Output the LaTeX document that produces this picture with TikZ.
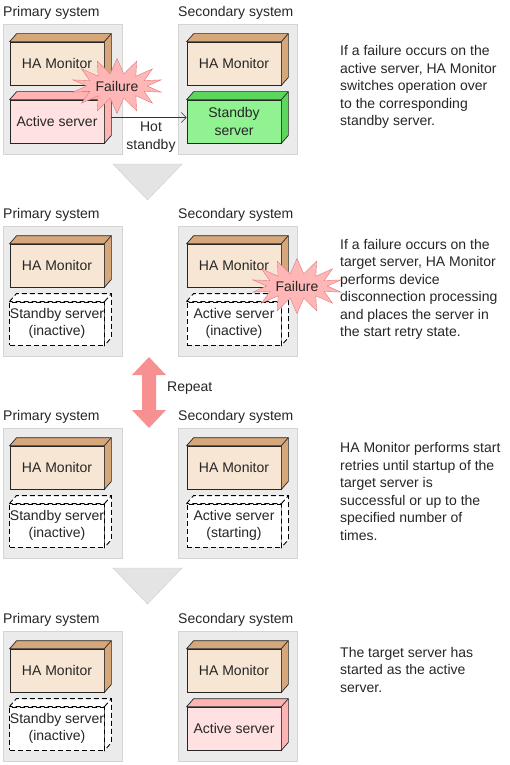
\documentclass[tikz,border=0pt]{standalone}
\usepackage{fontspec}
\setmainfont{Liberation Sans}
\usetikzlibrary{arrows.meta, positioning, shapes.symbols}

\definecolor{panelgray}{HTML}{EBEBEB}
\definecolor{panelline}{HTML}{D4D4D4}
\definecolor{downgray}{HTML}{E4E4E4}
\definecolor{hafront}{HTML}{F8E6D4}
\definecolor{haside}{HTML}{D6A77A}
\definecolor{actfront}{HTML}{FFE1E1}
\definecolor{actside}{HTML}{FFB4B4}
\definecolor{stbfront}{HTML}{90F290}
\definecolor{stbside}{HTML}{5CD65C}
\definecolor{burst}{HTML}{FFB6B6}
\definecolor{burstline}{HTML}{E07A7A}
\definecolor{repeatred}{HTML}{F79191}

% box with top and right faces
\newcommand{\srvbox}[4]{%
  \node[#1] (#2) at #3 {#4};
  \path[#1 face] (#2.north west) -- ([shift={(7,-8)}]#2.north west) -- ([shift={(7,-8)}]#2.north east)
    -- ([shift={(7,-8)}]#2.south east) -- (#2.south east) -- (#2.north east) -- cycle;
  \path[#1 face, fill=none] (#2.north east) -- ([shift={(7,-8)}]#2.north east);
}

\begin{document}
\begin{tikzpicture}[x=1pt, y=-1pt,
  every node/.style={font=\fontsize{14}{17.5}\selectfont, text=black!85},
  panel/.style={draw=panelline, fill=panelgray, minimum width=119pt, minimum height=130pt, inner sep=0pt, anchor=north west},
  title/.style={inner sep=0pt},
  box/.style={draw=black!85, line width=0.7pt, minimum width=94pt, minimum height=43pt, inner sep=0pt, align=center},
  ha/.style={box, fill=hafront},
  ha face/.style={draw=black!85, line width=0.7pt, fill=haside},
  act/.style={box, fill=actfront},
  act face/.style={draw=black!85, line width=0.7pt, fill=actside},
  stb/.style={box, fill=stbfront},
  stb face/.style={draw=black!85, line width=0.7pt, fill=stbside},
  idle/.style={box, fill=white, draw=black, line width=0.9pt, dash pattern=on 5pt off 3pt},
  idle face/.style={draw=black, line width=0.9pt, fill=white, dash pattern=on 5pt off 3pt},
  failure/.style={starburst, starburst points=14, starburst point height=15pt, random starburst=0,
    draw=burstline, fill=burst, inner sep=0pt, minimum width=78pt, minimum height=55pt},
  note/.style={anchor=west, align=left, inner sep=0pt},
  down/.style={fill=downgray, draw=downgray!90!black},
  link/.style={draw=black!80, line width=0.6pt, -{Straight Barb[length=5pt, width=10pt]}}
]
\useasboundingbox (0,0) rectangle (509,765);

% step 1
\node[panel] (p1a) at (3,24) {};
\node[panel] (p1b) at (178,24) {};
\node[title, above right=4pt and 0pt of p1a.north west] (t1a) {Primary system};
\node[title, above right=4pt and 0pt of p1b.north west] (t1b) {Secondary system};
\srvbox{ha}{ha1a}{(57,63.5)}{HA Monitor}
\srvbox{act}{srv1a}{(57,121.5)}{Active server}
\srvbox{ha}{ha1b}{(234,63.5)}{HA Monitor}
\srvbox{stb}{srv1b}{(234,121.5)}{Standby\\server}
\draw[link] ([shift={(7,-4)}]srv1a.east) -- ([yshift=4pt]srv1b.west);
\node[align=center, inner sep=0pt] (hot) at (151,137) {Hot\\standby};
\node[failure] (fail1) at (117,86) {Failure};
\node[note] (n1) at (340,87) {If a failure occurs on the\\active server, HA Monitor\\switches operation over\\to the corresponding\\standby server.};
\draw[down] (113,164) -- (182,164) -- (147.5,200) -- cycle;

% step 2
\node[panel] (p2a) at (3,226) {};
\node[panel] (p2b) at (178,226) {};
\node[title, above right=4pt and 0pt of p2a.north west] (t2a) {Primary system};
\node[title, above right=4pt and 0pt of p2b.north west] (t2b) {Secondary system};
\srvbox{ha}{ha2a}{(57,265.5)}{HA Monitor}
\srvbox{idle}{srv2a}{(57,323.5)}{Standby server\\(inactive)}
\srvbox{ha}{ha2b}{(234,265.5)}{HA Monitor}
\srvbox{idle}{srv2b}{(234,323.5)}{Active server\\(inactive)}
\node[failure] (fail2) at (297,286) {Failure};
\node[note] (n2) at (340,289.5) {If a failure occurs on the\\target server, HA Monitor\\performs device\\disconnection processing\\and places the server in\\the start retry state.};

% repeat
\fill[repeatred] (149,357) -- (166,375) -- (156,375) -- (156,410) -- (166,410) -- (149,428)
  -- (132,410) -- (142,410) -- (142,375) -- (132,375) -- cycle;
\node[anchor=west, inner sep=0pt] (rep) at (167,388) {Repeat};

% step 3
\node[panel] (p3a) at (3,428) {};
\node[panel] (p3b) at (178,428) {};
\node[title, above right=4pt and 0pt of p3a.north west] (t3a) {Primary system};
\node[title, above right=4pt and 0pt of p3b.north west] (t3b) {Secondary system};
\srvbox{ha}{ha3a}{(57,467.5)}{HA Monitor}
\srvbox{idle}{srv3a}{(57,525.5)}{Standby server\\(inactive)}
\srvbox{ha}{ha3b}{(234,467.5)}{HA Monitor}
\srvbox{idle}{srv3b}{(234,525.5)}{Active server\\(starting)}
\node[note] (n3) at (340,491.5) {HA Monitor performs start\\retries until startup of the\\target server is\\successful or up to the\\specified number of\\times.};
\draw[down] (113,568) -- (182,568) -- (147.5,604) -- cycle;

% step 4
\node[panel] (p4a) at (3,631) {};
\node[panel] (p4b) at (178,631) {};
\node[title, above right=4pt and 0pt of p4a.north west] (t4a) {Primary system};
\node[title, above right=4pt and 0pt of p4b.north west] (t4b) {Secondary system};
\srvbox{ha}{ha4a}{(57,670.5)}{HA Monitor}
\srvbox{idle}{srv4a}{(57,728.5)}{Standby server\\(inactive)}
\srvbox{ha}{ha4b}{(234,670.5)}{HA Monitor}
\srvbox{act}{srv4b}{(234,728.5)}{Active server}
\node[note] (n4) at (340,669.5) {The target server has\\started as the active\\server.};
\end{tikzpicture}
\end{document}
